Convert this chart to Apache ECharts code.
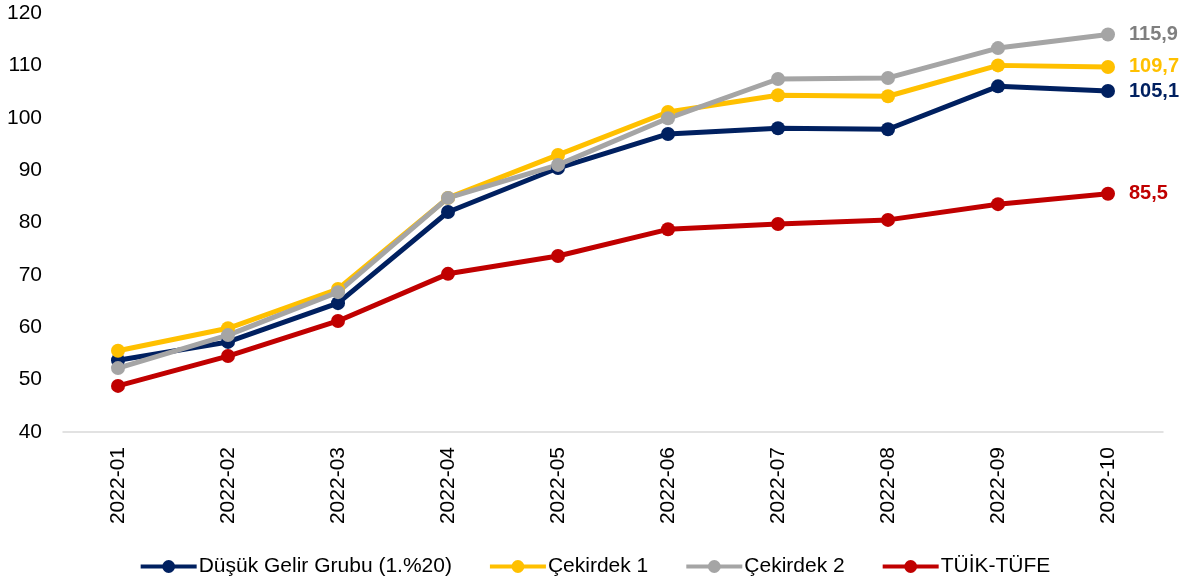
<!DOCTYPE html>
<html>
<head>
<meta charset="utf-8">
<script src="https://cdn.jsdelivr.net/npm/echarts@6/dist/echarts.min.js"></script>
<style>
  html, body { margin: 0; padding: 0; background: #fff; }
  #chart { width: 1189px; height: 584px; }
</style>
</head>
<body>
<div id="chart"></div>
<script>
const months = ['2022-01', '2022-02', '2022-03', '2022-04', '2022-05', '2022-06', '2022-07', '2022-08', '2022-09', '2022-10'];
const dusukGelir = [53.7, 57.2, 64.6, 82.0, 90.4, 96.9, 98.0, 97.8, 106.0, 105.1];
const cekirdek1 = [55.5, 59.8, 67.3, 84.7, 92.9, 101.1, 104.3, 104.1, 110.0, 109.7];
const cekirdek2 = [52.2, 58.5, 66.7, 84.7, 91.0, 99.9, 107.4, 107.6, 113.3, 115.9];
const tuikTufe = [48.8, 54.5, 61.2, 70.2, 73.6, 78.7, 79.7, 80.5, 83.5, 85.5];

const font = '"Liberation Sans", Arial, sans-serif';

function makeSeries(name, data, color, labelColor) {
  return {
    name: name,
    type: 'line',
    data: data,
    symbol: 'circle',
    symbolSize: 14,
    lineStyle: { width: 5, color: color },
    itemStyle: { color: color },
    label: {
      show: true,
      position: 'right',
      distance: 14,
      fontFamily: font,
      fontWeight: 'bold',
      fontSize: 20,
      color: labelColor || color,
      // 只显示最后一个点的数值
      formatter: p => p.dataIndex === data.length - 1 ? String(p.value).replace('.', ',') : ''
    },
    emphasis: { disabled: true }
  };
}

const myChart = echarts.init(document.getElementById('chart'));
myChart.setOption({
  animation: false,
  grid: { left: 63, right: 26, top: 13, bottom: 152, containLabel: false },
  legend: {
    bottom: 2,
    left: 'center',
    itemWidth: 56,
    itemHeight: 16,
    itemGap: 36,
    lineStyle: { width: 4 },
    textStyle: { fontFamily: font, fontSize: 21, color: '#000', padding: [0, 0, 0, -3] }
  },
  xAxis: {
    type: 'category',
    data: months,
    boundaryGap: true,
    axisLine: { lineStyle: { color: '#d9d9d9', width: 1.5 } },
    axisTick: { show: false },
    axisLabel: { rotate: 90, fontFamily: font, fontSize: 21, color: '#000', margin: 15 }
  },
  yAxis: {
    type: 'value',
    min: 40,
    max: 120,
    interval: 10,
    splitLine: { show: false },
    axisLine: { show: false },
    axisTick: { show: false },
    axisLabel: { fontFamily: font, fontSize: 21, color: '#000', margin: 21 }
  },
  series: [
    makeSeries('Düşük Gelir Grubu (1.%20)', dusukGelir, '#002060'),
    makeSeries('Çekirdek 1', cekirdek1, '#ffc000'),
    makeSeries('Çekirdek 2', cekirdek2, '#a5a5a5', '#7f7f7f'),
    makeSeries('TÜİK-TÜFE', tuikTufe, '#c00000')
  ]
});
</script>
</body>
</html>
